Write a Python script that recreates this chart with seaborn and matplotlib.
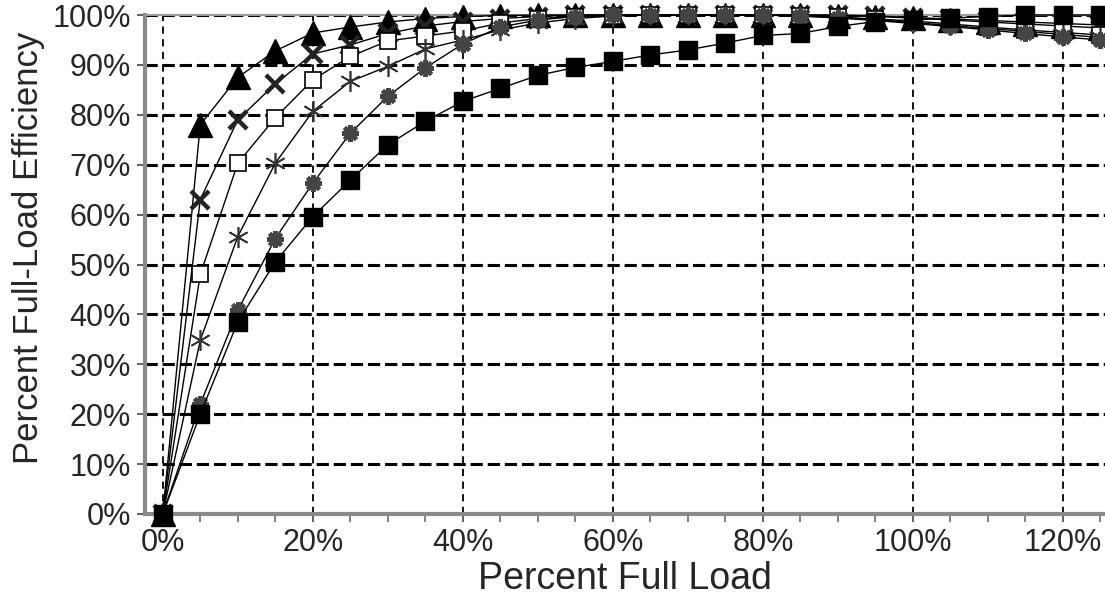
import pandas as pd
import seaborn as sns
import matplotlib.pyplot as plt
from matplotlib.ticker import PercentFormatter, MultipleLocator

# percent of full load (x) and percent of full-load efficiency (y)
load = [0, 5, 10, 15, 20, 25, 30, 35, 40, 45, 50, 55, 60, 65, 70, 75, 80, 85, 90, 95, 100, 105, 110, 115, 120, 125]

eff_triangle = [0, 78, 87.5, 92.8, 96.4, 97.6, 98.6, 99.3, 99.7, 99.9, 100, 100, 100, 100, 100, 100,
                100, 100, 99.9, 99.7, 99.4, 99.0, 98.6, 98.2, 97.8, 97.4]
eff_cross = [0, 63, 79, 86.2, 92.2, 94.0, 96.3, 97.8, 98.7, 99.3, 99.7, 100, 100, 100, 100, 100,
             100, 100, 100, 99.8, 99.5, 99.2, 98.9, 98.6, 98.3, 98.0]
eff_open_sq = [0, 48, 70.3, 79.4, 87, 91.7, 94.8, 95.8, 96.8, 98.4, 99.3, 99.7, 99.9, 100, 100, 100,
               100, 99.9, 99.6, 99.2, 98.8, 98.2, 97.6, 97.0, 96.5, 96.0]
eff_asterisk = [0, 34.8, 55.6, 70.3, 80.7, 86.7, 89.7, 93.2, 95.0, 97.0, 98.4, 99.3, 99.8, 100, 100, 100,
                100, 99.8, 99.5, 99.0, 98.5, 97.9, 97.3, 96.7, 96.1, 95.5]
eff_star = [0, 22, 40.8, 55.2, 66.3, 76.3, 83.7, 89.4, 94.2, 97.6, 99.0, 99.7, 100, 100, 100, 100,
            100, 99.8, 99.4, 98.9, 98.3, 97.7, 97.0, 96.3, 95.6, 95.0]
eff_square = [0, 20, 38.5, 50.5, 59.6, 66.9, 74, 78.7, 82.7, 85.3, 87.9, 89.5, 90.7, 92, 93, 94.4,
              95.9, 96.3, 97.7, 98.7, 99.0, 99.4, 99.7, 100, 100, 100]

series = {
    "triangle": eff_triangle,
    "cross": eff_cross,
    "open_sq": eff_open_sq,
    "asterisk": eff_asterisk,
    "star": eff_star,
    "square": eff_square,
}

styles = {
    "triangle": dict(marker="^", ms=17, mfc="black", mec="black", mew=1),
    "cross": dict(marker="x", ms=13, mfc="black", mec="#222222", mew=3.2),
    "open_sq": dict(marker="s", ms=11, mfc="white", mec="black", mew=1.2),
    "asterisk": dict(marker=(6, 2, 0), ms=15, mfc="black", mec="#333333", mew=1.2),
    "star": dict(marker=(8, 2, 0), ms=12, mfc="black", mec="#444444", mew=3),
    "square": dict(marker="s", ms=13, mfc="black", mec="black", mew=1),
}

df = pd.DataFrame({"load": load, **series})

sns.set_style("white")
plt.rcParams["font.family"] = ["Liberation Sans", "DejaVu Sans"]

fig = plt.figure(figsize=(11.05, 6.03), dpi=100)
ax = fig.add_axes([0.131, 0.1476, 0.869, 0.8275])

for name in series:
    sns.lineplot(data=df, x="load", y=name, ax=ax, color="black", lw=1.0,
                 clip_on=False, zorder=3, **styles[name])

ax.set_xlim(-2.4, 125.6)
ax.set_ylim(0, 100)
ax.xaxis.set_major_locator(MultipleLocator(20))
ax.xaxis.set_minor_locator(MultipleLocator(5))
ax.yaxis.set_major_locator(MultipleLocator(10))
ax.xaxis.set_major_formatter(PercentFormatter(decimals=0))
ax.yaxis.set_major_formatter(PercentFormatter(decimals=0))

ax.yaxis.grid(True, color="black", lw=2.2, ls=(0, (4, 1.6)), zorder=1)
ax.xaxis.grid(True, color="black", lw=1.3, ls=(0, (4, 3)), zorder=1)
ax.set_axisbelow(True)

for side in ["left", "bottom"]:
    ax.spines[side].set_color("#8a8a8a")
    ax.spines[side].set_linewidth(3)
ax.spines["top"].set_color("#9a9a9a")
ax.spines["top"].set_linewidth(1.5)
ax.spines["right"].set_visible(False)

ax.tick_params(axis="both", which="major", labelsize=22, direction="out", length=6,
               width=1.3, color="#555555", pad=4, left=True, bottom=True)
ax.tick_params(axis="x", which="minor", direction="out", length=6, width=1.3,
               color="#777777", bottom=True)

ax.set_xlabel("Percent Full Load", fontsize=27, labelpad=2)
ax.set_ylabel("Percent Full-Load Efficiency", fontsize=25, labelpad=4)
ax.yaxis.set_label_coords(-0.104, 0.533)

plt.savefig("out.png", dpi=100)
plt.close()
